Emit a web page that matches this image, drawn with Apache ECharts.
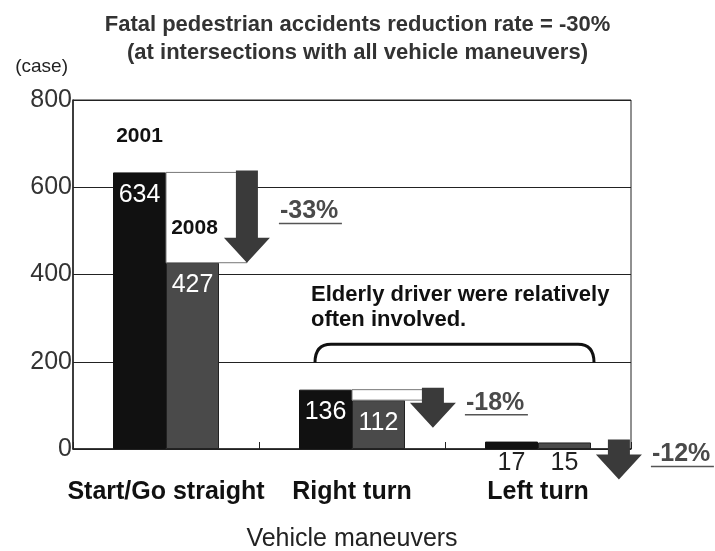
<!DOCTYPE html>
<html>
<head>
<meta charset="utf-8">
<script src="https://cdn.jsdelivr.net/npm/echarts@6/dist/echarts.min.js"></script>
<style>
  html, body { margin: 0; padding: 0; background: #fff; }
  #main { width: 715px; height: 551px; }
</style>
</head>
<body>
<div id="main"></div>
<script>
// data
var categories = ['Start/Go straight', 'Right turn', 'Left turn'];
var years = ['2001', '2008'];
var cases2001 = [634, 136, 17];
var cases2008 = [427, 112, 15];
var yTicks = [0, 200, 400, 600, 800];

var BAR_W = 53;
var FONT = '"Liberation Sans", Arial, sans-serif';

function barData(vals) {
  return vals.map(function (v) {
    // small bars get the number under the axis
    if (v < 60) {
      return { value: v, label: { position: 'bottom', distance: 2, color: '#222' } };
    }
    return v;
  });
}

var arrowData = categories.map(function (c, i) {
  return [i, cases2001[i], cases2008[i]];
});

function renderArrow(params, api) {
  var i = api.value(0);
  var p1 = api.coord([i, api.value(1)]);
  var p2 = api.coord([i, api.value(2)]);
  var band = api.size([1, 0])[0];
  var cx = p1[0];
  var ax = cx + band * 0.435;
  var yTop = p1[1] - 2;
  var yLow = p2[1];
  var tip = Math.max(yLow, yTop + 40);
  var sw = 11, hw = 23, hh = 25;
  var pct = Math.round((api.value(2) - api.value(1)) / api.value(1) * 100);
  var tx = ax + hw + 10;
  var ty = (yTop + tip) / 2 - 5;
  var kids = [];
  if (yLow - p1[1] > 4) {
    kids.push({
      type: 'rect',
      shape: { x: cx, y: p1[1], width: ax - cx, height: yLow - p1[1] },
      style: { fill: '#fff', stroke: '#777', lineWidth: 1 }
    });
  }
  kids.push(
    {
      type: 'polygon',
      shape: { points: [[ax - sw, yTop], [ax + sw, yTop], [ax + sw, tip - hh], [ax + hw, tip - hh],
                        [ax, tip], [ax - hw, tip - hh], [ax - sw, tip - hh]] },
      style: { fill: '#3a3a3a' }
    },
    {
      type: 'text',
      style: { text: pct + '%', x: tx, y: ty, verticalAlign: 'middle', fill: '#4a4a4a',
               font: 'bold 25px ' + FONT }
    },
    {
      type: 'line',
      shape: { x1: tx - 1, y1: ty + 12, x2: tx + 62, y2: ty + 12 },
      style: { stroke: '#555', lineWidth: 1.5 }
    }
  );
  if (params.dataIndex === 0) {
    kids.push({
      type: 'text',
      style: { text: years[0], x: cx - BAR_W / 2, y: p1[1] - 36, align: 'center', verticalAlign: 'middle',
               fill: '#111', font: 'bold 21px ' + FONT }
    });
    kids.push({
      type: 'text',
      style: { text: years[1], x: cx + BAR_W / 2 + 2, y: yLow - 35, align: 'center', verticalAlign: 'middle',
               fill: '#111', font: 'bold 21px ' + FONT }
    });
  }
  return { type: 'group', children: kids };
}

var chart = echarts.init(document.getElementById('main'));

var option = {
  backgroundColor: '#fff',
  animation: false,
  title: {
    text: 'Fatal pedestrian accidents reduction rate = -30%\n(at intersections with all vehicle maneuvers)',
    left: 'center',
    top: 6,
    textStyle: { fontFamily: FONT, fontSize: 22, fontWeight: 'bold', color: '#333', lineHeight: 28 }
  },
  grid: {
    left: 73, right: 84, top: 100, bottom: 102,
    containLabel: false,
    outerBoundsMode: 'none',
    show: true, borderColor: '#222', borderWidth: 1
  },
  xAxis: {
    type: 'category',
    data: categories,
    name: 'Vehicle maneuvers',
    nameLocation: 'middle',
    nameGap: 78,
    nameTextStyle: { fontFamily: FONT, fontSize: 25, color: '#222' },
    axisLine: { lineStyle: { color: '#222', width: 1.5 } },
    axisTick: { show: true, inside: true, length: 7, lineStyle: { color: '#222' } },
    axisLabel: { interval: 0, margin: 31, fontFamily: FONT, fontSize: 25, fontWeight: 'bold', color: '#111' }
  },
  yAxis: {
    type: 'value',
    min: yTicks[0],
    max: yTicks[yTicks.length - 1],
    interval: 200,
    name: '(case)',
    nameGap: 24,
    nameTextStyle: { fontFamily: FONT, fontSize: 19, color: '#222', align: 'right', padding: [0, 5, 0, 0] },
    axisLine: { show: true, lineStyle: { color: '#222', width: 1.5 } },
    axisTick: { show: false },
    axisLabel: { margin: 1, fontFamily: FONT, fontSize: 25, color: '#333' },
    splitLine: { lineStyle: { color: '#222', width: 1 } }
  },
  series: [
    {
      name: years[0],
      type: 'bar',
      data: barData(cases2001),
      barWidth: BAR_W,
      barGap: '0%',
      itemStyle: { color: '#111', borderColor: '#111', borderWidth: 1 },
      label: { show: true, position: 'insideTop', distance: 10, color: '#fff',
               fontFamily: FONT, fontSize: 25 },
      z: 2
    },
    {
      name: years[1],
      type: 'bar',
      data: barData(cases2008),
      barWidth: BAR_W,
      itemStyle: { color: '#4a4a4a', borderColor: '#222', borderWidth: 1 },
      label: { show: true, position: 'insideTop', distance: 10, color: '#fff',
               fontFamily: FONT, fontSize: 25 },
      z: 2
    },
    {
      type: 'custom',
      renderItem: renderArrow,
      data: arrowData,
      clip: false,
      z: 5
    }
  ]
};

chart.setOption(option);

// bracket + note over the turning maneuvers
var pL = chart.convertToPixel({ xAxisIndex: 0, yAxisIndex: 0 }, [categories[1], 240]);
var pR = chart.convertToPixel({ xAxisIndex: 0, yAxisIndex: 0 }, [categories[2], 198]);
var bx1 = pL[0] - BAR_W + 16, bx2 = pR[0] + BAR_W + 3;
var byT = pL[1], byB = pR[1], r = 16;

chart.setOption({
  graphic: [
    {
      type: 'group',
      z: 10,
      children: [
        { type: 'line', shape: { x1: bx1 + r, y1: byT, x2: bx2 - r, y2: byT },
          style: { stroke: '#111', lineWidth: 3 } },
        { type: 'bezierCurve', shape: { x1: bx1, y1: byB, cpx1: bx1, cpy1: byT, x2: bx1 + r, y2: byT },
          style: { stroke: '#111', lineWidth: 3, fill: null } },
        { type: 'bezierCurve', shape: { x1: bx2 - r, y1: byT, cpx1: bx2, cpy1: byT, x2: bx2, y2: byB },
          style: { stroke: '#111', lineWidth: 3, fill: null } },
        { type: 'text', x: bx1 - 4, y: byT - 62,
          style: { text: 'Elderly driver were relatively\noften involved.', fill: '#111',
                   font: 'bold 22px ' + FONT, lineHeight: 25 } }
      ]
    }
  ]
});
</script>
</body>
</html>
